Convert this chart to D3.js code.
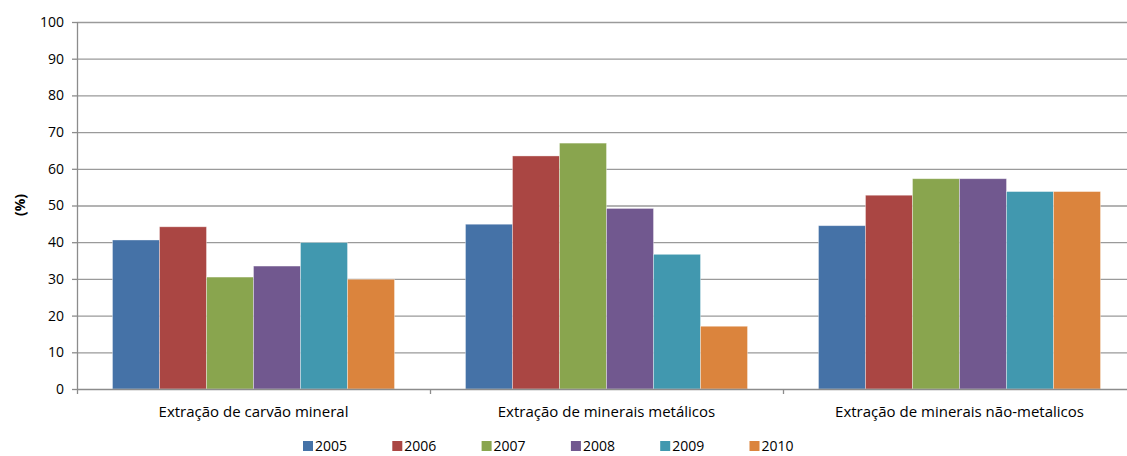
<!DOCTYPE html>
<html>
<head>
<meta charset="utf-8">
<script src="https://cdn.jsdelivr.net/npm/d3@7"></script>
<style>
  body { margin: 0; background: #fff; }
  #chart { width: 1127px; height: 456px; overflow: hidden; }
  .my-font { font-family: "Open Sans", "DejaVu Sans", sans-serif; }
</style>
</head>
<body>
<div id="chart"></div>
<script>
const categories = [
    "Extração de carvão mineral",
    "Extração de minerais metálicos",
    "Extração de minerais não-metalicos"
];
const years = ["2005", "2006", "2007", "2008", "2009", "2010"];
const values2005 = [40.6, 44.9, 44.5];
const values2006 = [44.2, 63.5, 52.8];
const values2007 = [30.5, 67.0, 57.3];
const values2008 = [33.5, 49.2, 57.3];
const values2009 = [39.9, 36.7, 53.8];
const values2010 = [29.9, 17.1, 53.8];
const yTicks = [0, 10, 20, 30, 40, 50, 60, 70, 80, 90, 100];
const colors = ["#4572A7", "#AA4643", "#89A54E", "#71588F", "#4198AF", "#DB843D"];

const drawChart = () => {

    const series = [values2005, values2006, values2007, values2008, values2009, values2010];

    // Plot area (runs a bit past the right edge, like the original)
    const margin = { top: 22, left: 77 };
    const width = 1059;
    const height = 367;

    const x0 = d3.scaleBand().domain(categories).range([0, width]).paddingInner(0).paddingOuter(0);
    const x1 = d3.scaleBand().domain(years).range([0, x0.bandwidth()]).paddingInner(0).paddingOuter(0.755);
    const y = d3.scaleLinear().domain([0, 100]).range([height, 0]);

    const svg = d3.select("#chart")
        .append("svg")
        .attr("class", "my-font")
        .attr("width", 1127)
        .attr("height", 456);

    const g = svg.append("g")
        .attr("transform", `translate(${margin.left},${margin.top})`);

    // Gridlines
    g.append("g")
        .selectAll("line")
        .data(yTicks.filter(d => d > 0))
        .join("line")
        .attr("x1", 0)
        .attr("x2", width)
        .attr("y1", d => y(d) + 0.5)
        .attr("y2", d => y(d) + 0.5)
        .attr("stroke", "#9a9a9a")
        .attr("stroke-width", 1.3);

    // Bars
    const groups = g.append("g")
        .selectAll("g")
        .data(categories)
        .join("g")
        .attr("transform", d => `translate(${x0(d)},0)`);

    groups.selectAll("rect")
        .data((c, ci) => years.map((yr, si) => ({ yr, v: series[si][ci], si })))
        .join("rect")
        .attr("x", d => x1(d.yr))
        .attr("y", d => y(d.v))
        .attr("width", x1.bandwidth())
        .attr("height", d => y(0) - y(d.v))
        .attr("fill", d => colors[d.si])
        .attr("stroke", "rgba(255,255,255,0.45)")
        .attr("stroke-width", 0.8);

    // Y axis
    const yAxis = d3.axisLeft(y).tickValues(yTicks).tickSize(5).tickPadding(8);
    const yAxisGroup = g.append("g").call(yAxis);
    yAxisGroup.select(".domain").attr("stroke", "#8c8c8c").attr("stroke-width", 1.3).attr("d", `M0.5,0V${height}`);
    yAxisGroup.selectAll(".tick line").attr("stroke", "#8c8c8c").attr("stroke-width", 1.3);
    yAxisGroup.selectAll("text")
        .attr("font-size", "14px")
        .attr("fill", "#000")
        .attr("font-family", "\"Open Sans\", sans-serif");

    // X axis
    const xAxisGroup = g.append("g").attr("transform", `translate(0,${height})`);
    xAxisGroup.append("line")
        .attr("x1", 0).attr("x2", width)
        .attr("y1", 0.5).attr("y2", 0.5)
        .attr("stroke", "#8c8c8c")
        .attr("stroke-width", 1.5);
    xAxisGroup.selectAll(".sep")
        .data(categories)
        .join("line")
        .attr("class", "sep")
        .attr("x1", d => x0(d) + 0.5)
        .attr("x2", d => x0(d) + 0.5)
        .attr("y1", 0)
        .attr("y2", 5)
        .attr("stroke", "#8c8c8c")
        .attr("stroke-width", 1.3);
    xAxisGroup.selectAll(".cat")
        .data(categories)
        .join("text")
        .attr("class", "cat")
        .attr("x", d => x0(d) + x0.bandwidth() / 2)
        .attr("y", 28)
        .attr("text-anchor", "middle")
        .attr("font-size", "15px")
        .attr("fill", "#000")
        .text(d => d);

    // Y label
    svg.append("text")
        .attr("transform", "translate(25,205) rotate(-90)")
        .attr("text-anchor", "middle")
        .attr("font-size", "14px")
        .attr("font-weight", "bold")
        .text("(%)");

    // Legend
    const legend = svg.append("g")
        .selectAll("g")
        .data(years)
        .join("g")
        .attr("transform", (d, i) => `translate(${303 + i * 89.3},441)`);

    legend.append("rect")
        .attr("width", 10)
        .attr("height", 10)
        .attr("fill", (d, i) => colors[i]);

    legend.append("text")
        .attr("x", 12)
        .attr("y", 10)
        .attr("font-size", "14px")
        .attr("fill", "#000")
        .text(d => d);
};

document.addEventListener("DOMContentLoaded", function () {
    drawChart();
});
</script>
</body>
</html>
